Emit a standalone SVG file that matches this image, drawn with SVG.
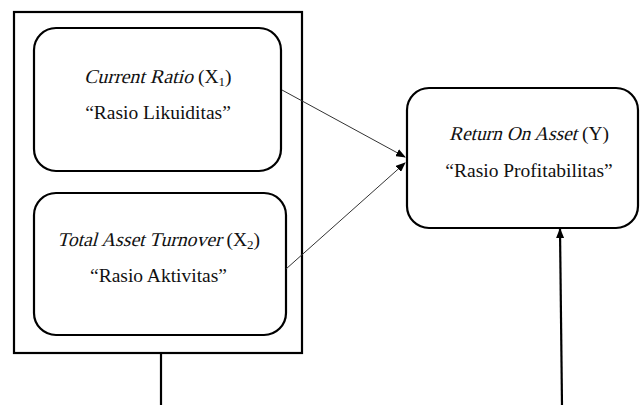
<svg xmlns="http://www.w3.org/2000/svg" width="640" height="405" viewBox="0 0 640 405">
<defs>
<marker id="ah" markerWidth="10" markerHeight="8" refX="9" refY="4" orient="auto" markerUnits="userSpaceOnUse">
<path d="M0,0 L10,4 L0,8 Z" fill="#000"/>
</marker>
<style>
.box{fill:#fff;stroke:#000;stroke-width:2.2}
.frame{fill:none;stroke:#000;stroke-width:2.2}
.t{font-family:'Liberation Serif','Times New Roman',serif;font-size:19.5px;fill:#111}
.c{text-anchor:middle}
.thin{stroke:#333;stroke-width:1;fill:none}
.thick{stroke:#000;stroke-width:2.2;fill:none}
</style>
</defs>
<rect width="640" height="405" fill="#fff"/>
<g id="frame">
<rect class="frame" x="14" y="12" width="288" height="341"/>
</g>
<g id="x1">
<rect class="box" x="34" y="28" width="247" height="143" rx="22"/>
<text class="t" transform="translate(84,83) skewX(-15)" x="0" y="0" textLength="109" lengthAdjust="spacingAndGlyphs">Current Ratio</text>
<text class="t" x="198" y="83">(X<tspan font-size="13" dy="3">1</tspan><tspan dy="-3">)</tspan></text>
<text class="t c" x="158" y="119">“Rasio Likuiditas”</text>
</g>
<g id="x2">
<rect class="box" x="34" y="193" width="252" height="142" rx="22"/>
<text class="t" transform="translate(57,246) skewX(-15)" x="0" y="0" textLength="164.5" lengthAdjust="spacingAndGlyphs">Total Asset Turnover</text>
<text class="t" x="226.5" y="246">(X<tspan font-size="13" dy="3">2</tspan><tspan dy="-3">)</tspan></text>
<text class="t c" x="158.5" y="282">“Rasio Aktivitas”</text>
</g>
<g id="y">
<rect class="box" x="407" y="88" width="231" height="140" rx="22"/>
<text class="t" transform="translate(449,140) skewX(-15)" x="0" y="0" textLength="128" lengthAdjust="spacingAndGlyphs">Return On Asset</text>
<text class="t" x="582" y="140">(Y)</text>
<text class="t c" x="529" y="177">“Rasio Profitabilitas”</text>
</g>
<g id="connectors">
<line class="thin" x1="282" y1="90" x2="405" y2="157" marker-end="url(#ah)"/>
<line class="thin" x1="286" y1="269" x2="405" y2="163" marker-end="url(#ah)"/>
<line class="thick" x1="161" y1="353" x2="161" y2="405"/>
<line class="thick" x1="562" y1="405" x2="560" y2="229" marker-end="url(#ah)"/>
</g>
</svg>
